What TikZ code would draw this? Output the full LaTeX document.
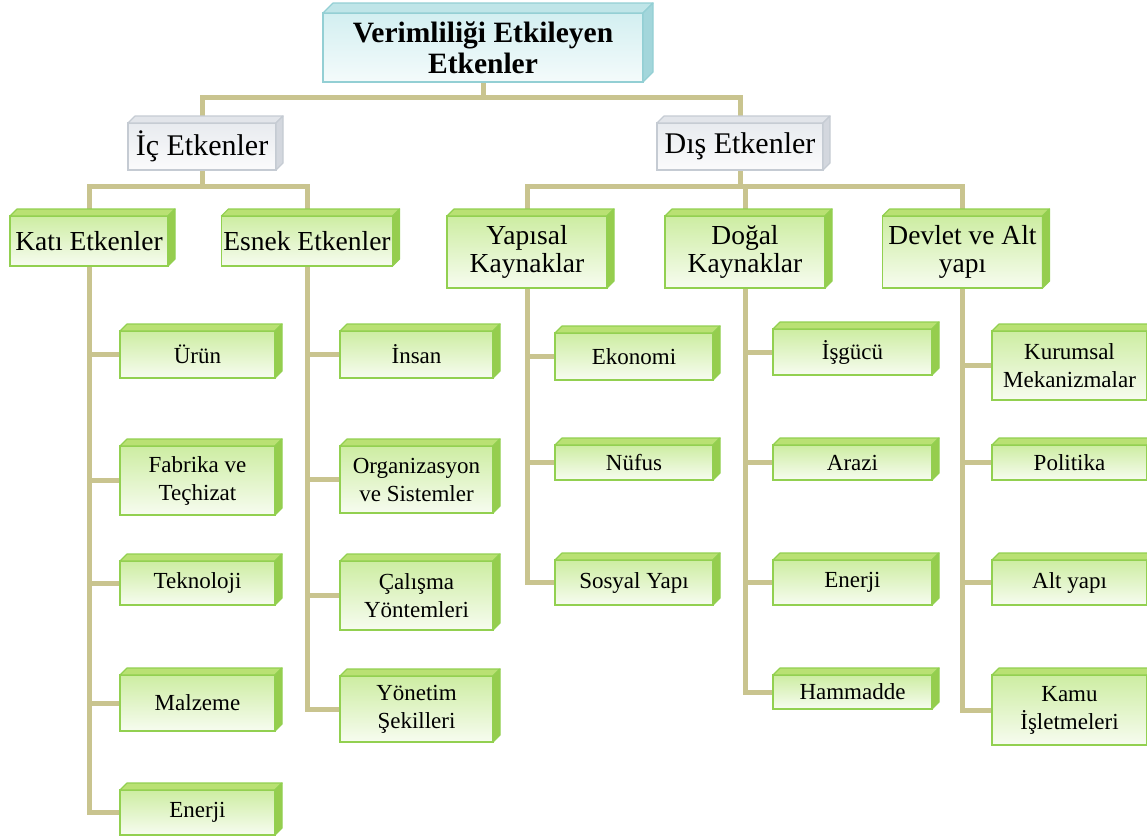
\documentclass[tikz,border=0pt]{standalone}
\usepackage{fontspec}
\setmainfont{Liberation Serif}
\usepackage{xcolor}
\usetikzlibrary{backgrounds}

\definecolor{linkcol}{HTML}{C9C48F}
\definecolor{leafedge}{HTML}{92D050}
\definecolor{leaftop}{HTML}{B9E173}
\definecolor{leafside}{HTML}{96CD4E}
\definecolor{leafhi}{HTML}{CDEDA2}
\definecolor{leaflo}{HTML}{F7FCF0}
\definecolor{rootedge}{HTML}{93CFD4}
\definecolor{roottop}{HTML}{BFE5E8}
\definecolor{rootside}{HTML}{A3D6DB}
\definecolor{roothi}{HTML}{D3EFF1}
\definecolor{rootlo}{HTML}{F4FBFB}
\definecolor{sideedge}{HTML}{C5CBD3}
\definecolor{sidetop}{HTML}{E2E5EA}
\definecolor{sideside}{HTML}{D3D7DE}
\definecolor{sidehi}{HTML}{E8EBEF}
\definecolor{sidelo}{HTML}{FBFBFC}

% top and right faces of a box: node, depth, edge, top fill, side fill
\newcommand{\boxfaces}[5]{%
  \filldraw[draw=#3, fill=#4, line width=1.2pt, line join=round]
    (#1.north west) -- ++(#2,-#2) -- ([shift={(#2,-#2)}]#1.north east) -- (#1.north east) -- cycle;
  \filldraw[draw=#3, fill=#5, line width=1.2pt, line join=round]
    (#1.north east) -- ++(#2,-#2) -- ([shift={(#2,-#2)}]#1.south east) -- (#1.south east) -- cycle;
}

\begin{document}
\begin{tikzpicture}[
  x=1pt, y=-1pt,
  link/.style={draw=linkcol, line width=5pt},
  cube/.style={rectangle, line width=1.2pt, outer sep=0pt, inner sep=2pt, align=center},
  root/.style={cube, draw=rootedge, top color=roothi, bottom color=rootlo,
               font=\fontsize{29.5}{31}\selectfont\bfseries},
  side/.style={cube, draw=sideedge, top color=sidehi, bottom color=sidelo,
               font=\fontsize{30}{32}\selectfont},
  group/.style={cube, draw=leafedge, top color=leafhi, bottom color=leaflo,
                font=\fontsize{27.5}{28}\selectfont},
  leaf/.style={cube, draw=leafedge, top color=leafhi, bottom color=leaflo,
               font=\fontsize{23}{28}\selectfont}
]
\useasboundingbox (0,0) rectangle (1147,839);

% root and first level
\node[root, minimum width=320, minimum height=69] (title) at (483,47.5) {Verimliliği Etkileyen\\Etkenler};
\node[side, minimum width=148, minimum height=47] (ic) at (202,146.5) {İç Etkenler};
\node[side, minimum width=166, minimum height=47] (dis) at (740,146.5) {Dış Etkenler};

% second level
\node[group, minimum width=158, minimum height=50] (kati) at (89,241) {Katı Etkenler};
\node[group, minimum width=170, minimum height=50] (esnek) at (307,241) {Esnek Etkenler};
\node[group, minimum width=160, minimum height=72] (yapisal) at (527,252) {Yapısal\\Kaynaklar};
\node[group, minimum width=160, minimum height=72] (dogal) at (745,252) {Doğal\\Kaynaklar};
\node[group, minimum width=160, minimum height=72] (devlet) at (962.5,252) {Devlet ve Alt\\yapı};

% leaves under Katı Etkenler
\node[leaf, minimum width=155, minimum height=47] (urun) at (197.5,354.5) {Ürün};
\node[leaf, minimum width=155, minimum height=69] (fabrika) at (197.5,480.5) {Fabrika ve\\Teçhizat};
\node[leaf, minimum width=155, minimum height=44] (teknoloji) at (197.5,583) {Teknoloji};
\node[leaf, minimum width=155, minimum height=56] (malzeme) at (197.5,703) {Malzeme};
\node[leaf, minimum width=155, minimum height=45] (enerjia) at (197.5,812.5) {Enerji};

% leaves under Esnek Etkenler
\node[leaf, minimum width=153, minimum height=47] (insan) at (416.5,354.5) {İnsan};
\node[leaf, minimum width=153, minimum height=67] (organizasyon) at (416.5,479.5) {Organizasyon\\ve Sistemler};
\node[leaf, minimum width=153, minimum height=69] (calisma) at (416.5,595.5) {Çalışma\\Yöntemleri};
\node[leaf, minimum width=153, minimum height=66] (yonetim) at (416.5,709) {Yönetim\\Şekilleri};

% leaves under Yapısal Kaynaklar
\node[leaf, minimum width=158, minimum height=47] (ekonomi) at (634,356.5) {Ekonomi};
\node[leaf, minimum width=158, minimum height=35] (nufus) at (634,462.5) {Nüfus};
\node[leaf, minimum width=158, minimum height=45] (sosyal) at (634,582.5) {Sosyal Yapı};

% leaves under Doğal Kaynaklar
\node[leaf, minimum width=159, minimum height=46] (isgucu) at (852.5,352) {İşgücü};
\node[leaf, minimum width=159, minimum height=35] (arazi) at (852.5,462.5) {Arazi};
\node[leaf, minimum width=159, minimum height=45] (enerjib) at (852.5,582.5) {Enerji};
\node[leaf, minimum width=159, minimum height=34] (hammadde) at (852.5,692) {Hammadde};

% leaves under Devlet ve Alt yapı
\node[leaf, minimum width=155, minimum height=69] (kurumsal) at (1069.5,365.5) {Kurumsal\\Mekanizmalar};
\node[leaf, minimum width=155, minimum height=35] (politika) at (1069.5,462.5) {Politika};
\node[leaf, minimum width=155, minimum height=45] (altyapi) at (1069.5,582.5) {Alt yapı};
\node[leaf, minimum width=155, minimum height=70] (kamu) at (1069.5,710) {Kamu\\İşletmeleri};

% 3d faces
\boxfaces{title}{10}{rootedge}{roottop}{rootside}
\foreach \n in {ic,dis} {\boxfaces{\n}{7}{sideedge}{sidetop}{sideside}}
\foreach \n in {kati,esnek,yapisal,dogal,devlet,urun,fabrika,teknoloji,malzeme,enerjia,
  insan,organizasyon,calisma,yonetim,ekonomi,nufus,sosyal,isgucu,arazi,enerjib,hammadde,
  kurumsal,politika,altyapi,kamu} {\boxfaces{\n}{7}{leafedge}{leaftop}{leafside}}

% connectors
\begin{pgfonlayer}{background}
\draw[link] (title.south) -- ++(0,15) coordinate (j0);
\draw[link] (j0) -| (ic.north);
\draw[link] (j0) -| (dis.north);
\draw[link] (ic.south) -- ++(0,16) coordinate (j1);
\draw[link] (j1) -| (kati.north);
\draw[link] (j1) -| (esnek.north);
\draw[link] (dis.south) -- ++(0,16) coordinate (j2);
\draw[link] (j2) -| (yapisal.north);
\draw[link] (j2) -| (dogal.north);
\draw[link] (j2) -| (devlet.north);
% trunks
\draw[link] (kati.south) |- (enerjia.west);
\draw[link] (esnek.south) |- (yonetim.west);
\draw[link] (yapisal.south) |- (sosyal.west);
\draw[link] (dogal.south) |- (hammadde.west);
\draw[link] (devlet.south) |- (kamu.west);
% branches
\draw[link] (kati.south |- urun.west) -- (urun.west);
\draw[link] (kati.south |- fabrika.west) -- (fabrika.west);
\draw[link] (kati.south |- teknoloji.west) -- (teknoloji.west);
\draw[link] (kati.south |- malzeme.west) -- (malzeme.west);
\draw[link] (esnek.south |- insan.west) -- (insan.west);
\draw[link] (esnek.south |- organizasyon.west) -- (organizasyon.west);
\draw[link] (esnek.south |- calisma.west) -- (calisma.west);
\draw[link] (yapisal.south |- ekonomi.west) -- (ekonomi.west);
\draw[link] (yapisal.south |- nufus.west) -- (nufus.west);
\draw[link] (dogal.south |- isgucu.west) -- (isgucu.west);
\draw[link] (dogal.south |- arazi.west) -- (arazi.west);
\draw[link] (dogal.south |- enerjib.west) -- (enerjib.west);
\draw[link] (devlet.south |- kurumsal.west) -- (kurumsal.west);
\draw[link] (devlet.south |- politika.west) -- (politika.west);
\draw[link] (devlet.south |- altyapi.west) -- (altyapi.west);
\end{pgfonlayer}
\end{tikzpicture}
\end{document}
